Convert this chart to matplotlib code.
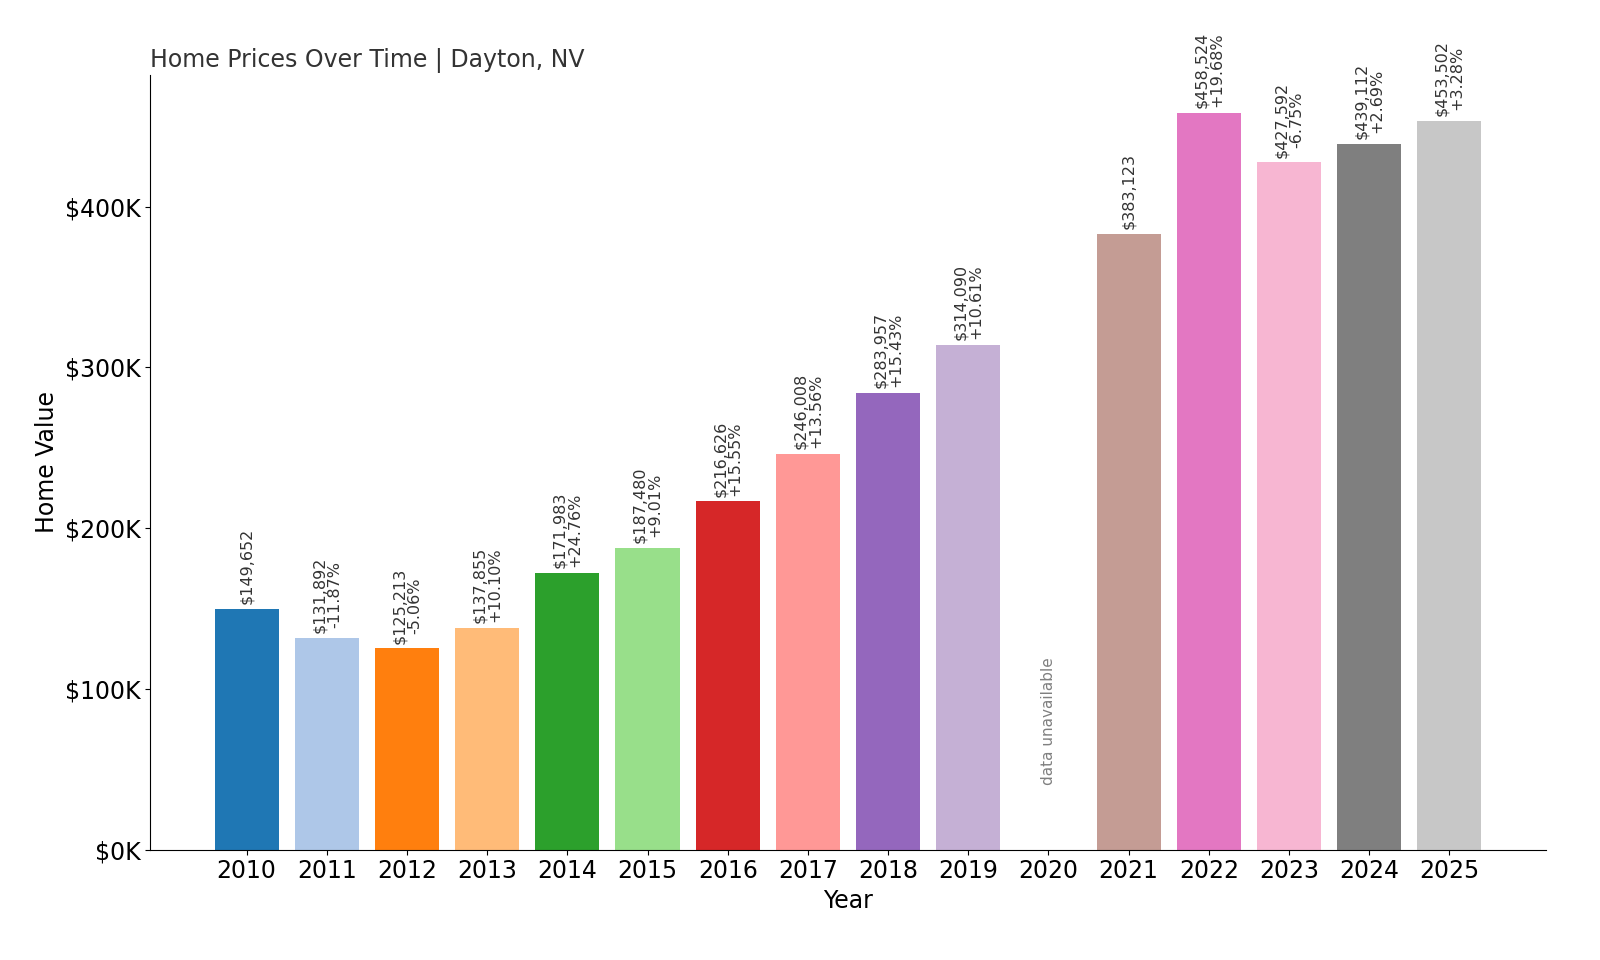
import numpy as np
import matplotlib.pyplot as plt

years = ["2010", "2011", "2012", "2013", "2014", "2015", "2016", "2017",
         "2018", "2019", "2020", "2021", "2022", "2023", "2024", "2025"]
values = [149652, 131892, 125213, 137855, 171983, 187480, 216626, 246008,
          283957, 314090, None, 383123, 458524, 427592, 439112, 453502]
changes = [None, "-11.87%", "-5.06%", "+10.10%", "+24.76%", "+9.01%", "+15.55%",
           "+13.56%", "+15.43%", "+10.61%", None, None, "+19.68%", "-6.75%",
           "+2.69%", "+3.28%"]

colors = plt.get_cmap("tab20").colors

fig = plt.figure(figsize=(16, 9.6), dpi=100)
ax = fig.add_axes([0.094, 0.115, 0.872, 0.807])

x = np.arange(len(years))
for i, v in enumerate(values):
    if v is None:
        ax.text(i, 40000, "data unavailable", rotation=90, ha="center", va="bottom",
                fontsize=11, color="gray")
        continue
    ax.bar(i, v, width=0.8, color=colors[i % 20])
    label = f"${v:,}"
    if changes[i]:
        label += "\n" + changes[i]
    ax.text(i, v + 3000, label, rotation=90, ha="center", va="bottom",
            fontsize=11.5, color="#333333", linespacing=1.0)

ax.set_xticks(x, years)
ax.set_ylim(0, 482000)
ax.set_yticks([0, 100000, 200000, 300000, 400000],
              ["$0K", "$100K", "$200K", "$300K", "$400K"])
ax.tick_params(labelsize=17)
ax.set_xlabel("Year", fontsize=17)
ax.set_ylabel("Home Value", fontsize=17)
ax.set_title("Home Prices Over Time | Dayton, NV", loc="left", fontsize=17, color="#333333")
ax.spines["top"].set_visible(False)
ax.spines["right"].set_visible(False)
ax.set_xlim(-1.2, 16.2)

fig.savefig("out.png", dpi=100)
